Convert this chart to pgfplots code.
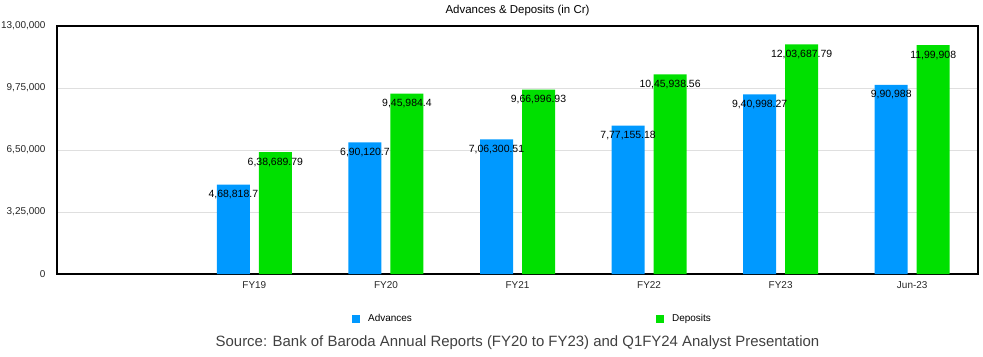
\documentclass[border=0pt]{standalone}
\usepackage{fontspec}
\setmainfont{Liberation Sans}
\usepackage{pgfplots}
\pgfplotsset{compat=1.18}
\definecolor{advblue}{RGB}{0,153,255}
\definecolor{depgreen}{RGB}{0,224,0}
\pgfplotstableread{
x y label
0 468818.7 4,68,818.7
1 690120.7 6,90,120.7
2 706300.51 7,06,300.51
3 777155.18 7,77,155.18
4 940998.27 9,40,998.27
5 990988 9,90,988
}\advances
\pgfplotstableread{
x y label
0 638689.79 6,38,689.79
1 945984.4 9,45,984.4
2 966996.93 9,66,996.93
3 1045938.56 10,45,938.56
4 1203687.79 12,03,687.79
5 1199908 11,99,908
}\deposits
\begin{document}
\begin{tikzpicture}
\begin{axis}[
  scale only axis, width=921bp, height=248bp,
  xmin=-1.5, xmax=5.5, ymin=0, ymax=1300000,
  ybar, bar width=33bp,
  axis line style={line width=1.4bp, black},
  xtick={0,1,2,3,4,5},
  xticklabels={FY19,FY20,FY21,FY22,FY23,Jun-23},
  ytick={0,325000,650000,975000,1300000},
  yticklabels={0,{3,25,000},{6,50,000},{9,75,000},{13,00,000}},
  scaled y ticks=false,
  major tick length=0pt,
  ymajorgrids, grid style={gray!25, line width=0.8bp},
  tick label style={font=\fontsize{10}{11}\selectfont, text=black!85},
  yticklabel style={xshift=-8bp},
  xticklabel style={yshift=-4bp},
  /pgf/number format/assume math mode=true,
  title={Advances \& Deposits (in Cr)},
  title style={at={(axis description cs:0.5,1)}, anchor=center, yshift=9bp, font=\fontsize{11.5}{13}\selectfont},
  legend style={at={(axis description cs:0.5,0)}, anchor=north, xshift=15bp, yshift=-36bp, draw=none, fill=none,
    font=\fontsize{10}{11}\selectfont},
  legend columns=2,
  clip=false,
]
\coordinate (ll) at (rel axis cs:0,0);
\coordinate (ur) at (rel axis cs:1,1);
\addplot[ybar, bar shift=-21bp, fill=advblue, draw=none,
  nodes near coords, point meta=explicit symbolic,
  every node near coord/.append style={anchor=center, yshift=-10bp, text=black, font=\fontsize{10.5}{12}\selectfont},
  legend image code/.code={\fill[advblue] (0bp,-4bp) rectangle (8bp,4bp);}]
  table[x=x, y=y, meta=label] {\advances};
\addlegendentry{\makebox[292bp][l]{\hspace*{6bp}Advances}}
\addplot[ybar, bar shift=21bp, fill=depgreen, draw=none,
  nodes near coords, point meta=explicit symbolic,
  every node near coord/.append style={anchor=center, yshift=-10bp, text=black, font=\fontsize{10.5}{12}\selectfont},
  legend image code/.code={\fill[depgreen] (0bp,-4bp) rectangle (8bp,4bp);}]
  table[x=x, y=y, meta=label] {\deposits};
\addlegendentry{\hspace*{6bp}Deposits}
\node[font=\fontsize{15}{17}\selectfont, text=black!75, anchor=center] at ([yshift=-69bp]axis description cs:0.5,0) {Source: Bank of Baroda Annual Reports (FY20 to FY23) and Q1FY24 Analyst Presentation};
\end{axis}
\pgfresetboundingbox
\path[use as bounding box] ([shift={(-57bp,-83bp)}]ll) rectangle ([shift={(5bp,26bp)}]ur);
\end{tikzpicture}
\end{document}
